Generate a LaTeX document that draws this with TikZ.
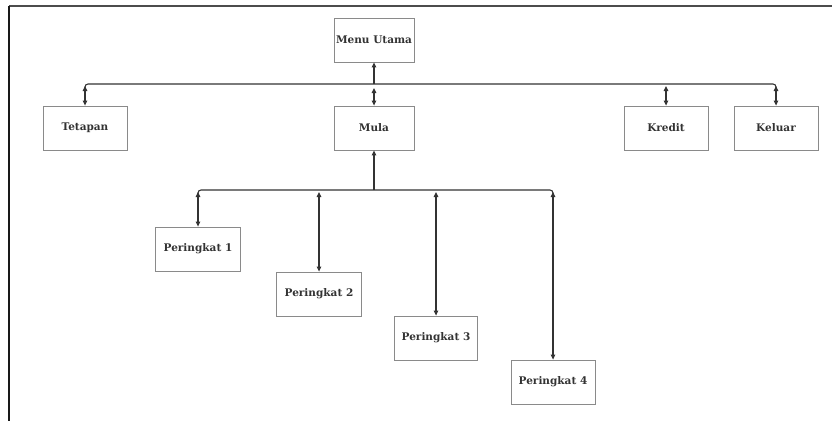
\documentclass[tikz,border=0pt]{standalone}
\usepackage{fontspec}
\setmainfont{DejaVu Serif}
\usetikzlibrary{arrows.meta}
\definecolor{boxline}{HTML}{8A8A8A}
\definecolor{conn}{HTML}{333333}
\tikzset{
  menubox/.style={draw=boxline, line width=0.8pt, fill=white, minimum width=84pt, minimum height=44pt, inner sep=0pt, font=\bfseries\fontsize{10.5}{12}\selectfont, text=black!80},
  link/.style={draw=conn, line width=1.1pt, rounded corners=3pt},
  tip/.style={-{Triangle[length=5pt,width=4.5pt]}},
  tips/.style={{Triangle[length=5pt,width=4.5pt]}-{Triangle[length=5pt,width=4.5pt]}}
}
\begin{document}
\begin{tikzpicture}[x=1pt,y=-1pt]
\useasboundingbox (0,0) rectangle (832,421);
% frame
\draw[draw=black!70, line width=1.4pt] (9,6) -- (832,6);
\draw[draw=black!90, line width=1.8pt] (9,6) -- (9,421);
% nodes
\node[menubox, minimum width=80pt] (menu) at (374,40) {Menu Utama};
\node[menubox] (tetapan) at (85,128) {Tetapan};
\node[menubox, minimum width=80pt] (mula) at (374,128) {Mula};
\node[menubox] (kredit) at (666,128) {Kredit};
\node[menubox] (keluar) at (776,128) {Keluar};
\node[menubox, minimum width=85pt] (p1) at (198,249) {Peringkat 1};
\node[menubox, minimum width=85pt] (p2) at (319,294) {Peringkat 2};
\node[menubox, minimum width=83pt] (p3) at (436,338) {Peringkat 3};
\node[menubox, minimum width=84pt] (p4) at (553,382) {Peringkat 4};
% bus coordinates
\coordinate (busM) at (374,84);
\coordinate (sbusM) at (374,190);
% top bus
\draw[link] (85,90) -- (85,84) -- (776,84) -- (776,90);
\draw[link, tip] (busM) -- (menu.south);
\draw[link, tips] (374,88) -- (mula.north);
\draw[link, tips] (85,86) -- (tetapan.north);
\draw[link, tips] (666,86) -- (kredit.north);
\draw[link, tips] (776,86) -- (keluar.north);
% sub bus
\draw[link, tip] (sbusM) -- (mula.south);
\draw[link] (198,196) -- (198,190) -- (553,190) -- (553,196);
\draw[link, tips] (198,192) -- (p1.north);
\draw[link, tips] (319,192) -- (p2.north);
\draw[link, tips] (436,192) -- (p3.north);
\draw[link, tips] (553,192) -- (p4.north);
\end{tikzpicture}
\end{document}
